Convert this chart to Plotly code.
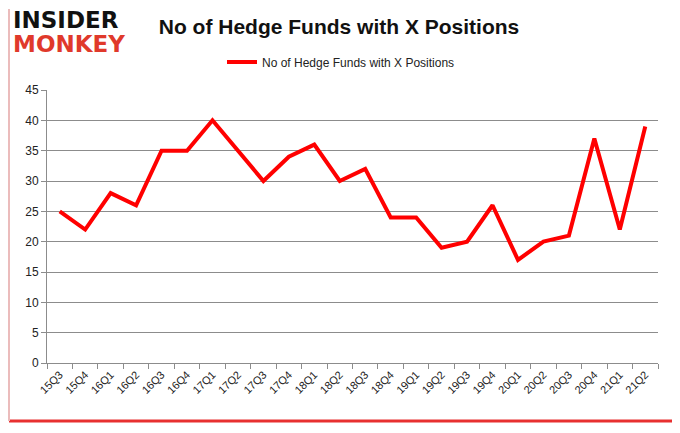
import plotly.graph_objects as go

quarters = ["15Q3", "15Q4", "16Q1", "16Q2", "16Q3", "16Q4", "17Q1", "17Q2", "17Q3", "17Q4",
            "18Q1", "18Q2", "18Q3", "18Q4", "19Q1", "19Q2", "19Q3", "19Q4", "20Q1", "20Q2",
            "20Q3", "20Q4", "21Q1", "21Q2"]
funds = [25, 22, 28, 26, 35, 35, 40, 35, 30, 34,
         36, 30, 32, 24, 24, 19, 20, 26, 17, 20,
         21, 37, 22, 39]
y_ticks = [0, 5, 10, 15, 20, 25, 30, 35, 40, 45]
series_name = "No of Hedge Funds with X Positions"

OFF = 8  # page body margin
W, H = 680 - OFF, 433 - OFF
L, R, T, B = 47 - OFF, 22, 90 - OFF, 70
pw, ph = W - L - R, H - T - B

def px(sx):
    return (sx - OFF - L) / pw

def py(sy):
    return (H - B - (sy - OFF)) / ph

def cx(sx):
    return (sx - OFF) / W

def cy(sy):
    return 1 - (sy - OFF) / H

fig = go.Figure()
fig.add_trace(go.Scatter(
    x=quarters, y=funds, mode="lines", name=series_name,
    line=dict(color="#ff0000", width=4), showlegend=True,
))

grid = "#8c8c8c"
fig.update_layout(
    width=W, height=H,
    margin=dict(l=L, r=R, t=T, b=B, autoexpand=False),
    paper_bgcolor="white", plot_bgcolor="white",
    font=dict(family="Liberation Sans, Arial, sans-serif", color="#222222"),
    title=dict(text="<b>No of Hedge Funds with X Positions</b>",
               x=cx(339), xref="container", xanchor="center",
               y=cy(27), yref="container", yanchor="middle",
               font=dict(size=21, color="#111111", family="Liberation Sans, Arial, sans-serif")),
    legend=dict(orientation="h", x=cx(341), xref="container", xanchor="center",
                y=cy(62), yref="container", yanchor="middle",
                font=dict(size=12, color="#222222"), itemwidth=30,
                bgcolor="rgba(0,0,0,0)"),
    xaxis=dict(type="category", showgrid=False, showline=True, linecolor=grid, linewidth=1,
               ticks="outside", tickson="boundaries", ticklen=5, tickcolor=grid,
               tickangle=-45, tickfont=dict(size=11, color="#222222"),
               range=[-0.5, len(quarters) - 0.5], fixedrange=True, automargin=False),
    yaxis=dict(range=[0, 45], tickvals=y_ticks, showgrid=True, gridcolor=grid, gridwidth=1,
               showline=True, linecolor=grid, linewidth=1, ticks="outside", ticklen=5,
               tickcolor=grid, tickfont=dict(size=12, color="#222222"), zeroline=False,
               fixedrange=True, automargin=False),
    showlegend=True,
)

# outer frame and shadow
fig.add_shape(type="line", xref="paper", yref="paper",
              x0=px(673), x1=px(673), y0=py(420), y1=py(9),
              line=dict(color="#c8c8c8", width=1))
fig.add_shape(type="line", xref="paper", yref="paper",
              x0=px(9), x1=px(674), y0=py(421), y1=py(421),
              line=dict(color="#e83030", width=3))
fig.add_shape(type="line", xref="paper", yref="paper",
              x0=px(9), x1=px(9), y0=py(421), y1=py(9),
              line=dict(color="#ebbcbc", width=2))

# logo
fig.add_annotation(text="<b>INSIDER</b>", xref="paper", yref="paper",
                   x=px(11), y=py(20), xanchor="left", yanchor="middle", showarrow=False,
                   font=dict(family="DejaVu Sans, sans-serif", size=23, color="#111111"))
fig.add_annotation(text="<b>MONKEY</b>", xref="paper", yref="paper",
                   x=px(11), y=py(44), xanchor="left", yanchor="middle", showarrow=False,
                   font=dict(family="DejaVu Sans, sans-serif", size=23, color="#e0392b"))

fig.write_html("out.html")
